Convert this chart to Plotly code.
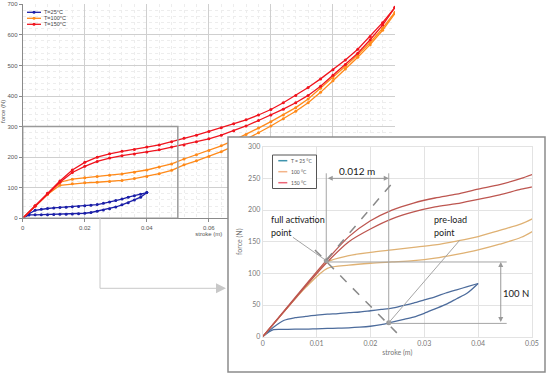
import plotly.graph_objects as go

W, H = 550, 373

# ---------------- data ----------------
stroke_main = [0.000, 0.004, 0.008, 0.012, 0.016, 0.020, 0.024, 0.028, 0.032, 0.036,
               0.040, 0.044, 0.048, 0.052, 0.056, 0.060, 0.064, 0.068, 0.072, 0.076,
               0.080, 0.084, 0.088, 0.092, 0.096, 0.100, 0.104, 0.108, 0.112, 0.116, 0.120]
force_150_hi = [0, 41, 82, 122, 158, 183, 200, 211, 219, 225,
                233, 240, 250, 262, 272, 284, 296, 309, 322, 338,
                356, 378, 402, 428, 456, 486, 518, 553, 595, 640, 690]
force_150_lo = [0, 40, 80, 118, 150, 170, 186, 197, 205, 210,
                217, 224, 233, 240, 250, 260, 272, 286, 302, 320,
                338, 357, 378, 402, 432, 468, 503, 540, 584, 632, 690]
force_100_hi = [0, 40, 80, 118, 128, 133, 137, 141, 145, 151,
                158, 168, 178, 194, 208, 222, 237, 255, 274, 295,
                316, 338, 362, 390, 425, 460, 497, 535, 575, 622, 674]
force_100_lo = [0, 40, 78, 108, 113, 116, 118, 120, 124, 130,
                137, 146, 157, 175, 188, 202, 218, 236, 257, 280,
                302, 326, 350, 378, 412, 450, 488, 527, 568, 615, 670]

stroke_25 = [0.000, 0.002, 0.004, 0.006, 0.008, 0.010, 0.012, 0.014, 0.016, 0.018,
             0.020, 0.022, 0.024, 0.026, 0.028, 0.030, 0.032, 0.034, 0.036, 0.038, 0.040]
force_25_hi = [0, 15, 26, 30, 32, 34, 35.5, 36.5, 38, 39,
               41, 43, 45, 49, 53, 58, 63, 69, 74, 79, 84]
force_25_lo = [0, 11, 11.5, 12, 12, 12.5, 13, 13.5, 14, 15,
               16.5, 19, 23, 27, 31, 37, 44, 51, 60, 69, 84]

temps_main = ["T=25°C", "T=100°C", "T=150°C"]
temps_inset = ["T = 25 °C", "100 °C", "150 °C"]
col_main = ["#1b1fa8", "#ff8a1a", "#f0141e"]
col_inset = ["#4d6c9c", "#dfb173", "#bd5650"]
col_inset_legend = ["#3f93ad", "#f3b489", "#ec6677"]

key_stroke = [0.0118, 0.0234]   # full activation point, pre-load point
key_force = [120, 22]
zoom_stroke = [0, 0.05]
zoom_force = [0, 300]

# ---------------- helpers ----------------
def fx(p):
    return p / W

def fy(p):
    return 1 - p / H

series = [(stroke_25, force_25_hi, force_25_lo),
          (stroke_main, force_100_hi, force_100_lo),
          (stroke_main, force_150_hi, force_150_lo)]

fig = go.Figure()

for i, (sx, hi, lo) in enumerate(series):
    for ys in (hi, lo):
        fig.add_trace(go.Scatter(x=sx, y=ys, mode="lines+markers", xaxis="x", yaxis="y",
                                 line=dict(color=col_main[i], width=1.3),
                                 marker=dict(color=col_main[i], size=3),
                                 showlegend=False, hoverinfo="skip"))

# box subplot (white panel behind inset)
fig.add_trace(go.Scatter(x=[], y=[], xaxis="x2", yaxis="y2", showlegend=False))

for i, (sx, hi, lo) in enumerate(series):
    for ys in (hi, lo):
        fig.add_trace(go.Scatter(x=sx, y=ys, mode="lines", xaxis="x3", yaxis="y3",
                                 line=dict(color=col_inset[i], width=1.3, shape="spline", smoothing=0.8),
                                 showlegend=False, hoverinfo="skip"))

fig.add_trace(go.Scatter(x=key_stroke, y=key_force, mode="markers", xaxis="x3", yaxis="y3",
                         marker=dict(color="#9a9a9a", size=5), showlegend=False, hoverinfo="skip"))

main_font = "Liberation Sans, Arial, sans-serif"
inset_font = "Lato, Open Sans, sans-serif"

common_main = dict(showgrid=True, gridcolor="#cfcfcf", gridwidth=1, zeroline=False,
                   showline=True, linecolor="#8a8a8a", linewidth=1,
                   ticks="outside", ticklen=3, tickcolor="#8a8a8a",
                   tickfont=dict(size=6, color="#555", family=main_font),
                   automargin=False)

fig.update_layout(
    width=W, height=H, margin=dict(l=0, r=0, t=0, b=0),
    paper_bgcolor="white", plot_bgcolor="white", showlegend=False,
    xaxis=dict(domain=[fx(22.7), fx(395)], range=[0, 0.12], dtick=0.02, tick0=0, anchor="y",
               minor=dict(dtick=0.004, showgrid=True, gridcolor="#ededed", griddash="dot"),
               title=dict(text="stroke (m)", font=dict(size=6, color="#555", family=main_font), standoff=2),
               **common_main),
    yaxis=dict(domain=[fy(218.3), fy(4.3)], range=[0, 700], dtick=100, tick0=0, anchor="x",
               minor=dict(dtick=20, showgrid=True, gridcolor="#ededed", griddash="dot"),
               title=dict(text="force (N)", font=dict(size=6, color="#555", family=main_font), standoff=2),
               **common_main),
    xaxis2=dict(domain=[fx(228), fx(545)], range=[0, 1], visible=False, anchor="y2", automargin=False),
    yaxis2=dict(domain=[fy(372), fy(137)], range=[0, 1], visible=False, anchor="x2", automargin=False),
    xaxis3=dict(domain=[fx(262.7), fx(532)], range=[0, 0.05], dtick=0.01, tick0=0, anchor="y3",
                showgrid=True, gridcolor="#e3e3e3", zeroline=False, showline=True, mirror=True,
                linecolor="#e3e3e3", ticks="", tickfont=dict(size=7, color="#777", family=inset_font),
                title=dict(text="stroke (m)", font=dict(size=7, color="#777", family=inset_font), standoff=4),
                automargin=False),
    yaxis3=dict(domain=[fy(336.7), fy(146.7)], range=[0, 300], dtick=50, tick0=0, anchor="x3",
                showgrid=True, gridcolor="#e3e3e3", zeroline=False, showline=True, mirror=True,
                linecolor="#e3e3e3", ticks="", tickfont=dict(size=7, color="#777", family=inset_font),
                title=dict(text="force (N)", font=dict(size=7, color="#777", family=inset_font), standoff=4),
                automargin=False),
)

shapes = []
annos = []

# zoom region in the main chart
shapes.append(dict(type="rect", xref="x", yref="y", x0=zoom_stroke[0], x1=zoom_stroke[1],
                   y0=zoom_force[0], y1=zoom_force[1], line=dict(color="#9a9a9a", width=1.5), layer="above"))

# connector from main chart to inset
shapes.append(dict(type="path", xref="paper", yref="paper",
                   path=f"M {fx(100)},{fy(217)} L {fx(100)},{fy(288.3)} L {fx(219)},{fy(288.3)}",
                   line=dict(color="#c8c8c8", width=1)))
annos.append(dict(xref="paper", yref="paper", x=fx(226), y=fy(288.3), ax=-10, ay=0, text="",
                  showarrow=True, arrowhead=2, arrowsize=2, arrowwidth=1, arrowcolor="#c8c8c8"))

# inset frame
shapes.append(dict(type="rect", xref="paper", yref="paper", x0=fx(228), x1=fx(545), y0=fy(372), y1=fy(137),
                   line=dict(color="#8c8c8c", width=1.5), layer="above"))

# main legend
for i, name in enumerate(temps_main):
    yy = 12.3 + 6 * i
    shapes.append(dict(type="line", xref="paper", yref="paper", x0=fx(27), x1=fx(41), y0=fy(yy), y1=fy(yy),
                       line=dict(color=col_main[i], width=1.3)))
    shapes.append(dict(type="circle", xref="paper", yref="paper", x0=fx(32.5), x1=fx(35.5),
                       y0=fy(yy + 1.5), y1=fy(yy - 1.5), fillcolor=col_main[i], line=dict(width=0)))
    annos.append(dict(xref="paper", yref="paper", x=fx(42), y=fy(yy), xanchor="left", yanchor="middle",
                      text=name, showarrow=False, font=dict(size=5.5, color="#444", family=main_font)))

# inset legend
shapes.append(dict(type="rect", xref="paper", yref="paper", x0=fx(272.5), x1=fx(316.5), y0=fy(188.5), y1=fy(155),
                   line=dict(color="#555", width=1), fillcolor="white", layer="above"))
for i, name in enumerate(temps_inset):
    yy = 160.7 + 11 * i
    shapes.append(dict(type="line", xref="paper", yref="paper", x0=fx(278.3), x1=fx(287.3), y0=fy(yy), y1=fy(yy),
                       line=dict(color=col_inset_legend[i], width=1.5)))
    annos.append(dict(xref="paper", yref="paper", x=fx(288.5), y=fy(yy), xanchor="left", yanchor="middle",
                      text=name, showarrow=False, font=dict(size=5, color="#555", family=inset_font)))

# inset construction lines
g = "#a5a5a5"
def iline(x0, y0, x1, y1, color=g, width=1, dash="solid"):
    shapes.append(dict(type="line", xref="x3", yref="y3", x0=x0, y0=y0, x1=x1, y1=y1,
                       line=dict(color=color, width=width, dash=dash), layer="above"))

fa_x, pl_x = key_stroke
fa_y, pl_y = key_force
iline(fa_x, fa_y, fa_x, 258)
iline(pl_x, pl_y, pl_x, 258)
iline(fa_x, 121, 0.0243, 245, color="#8a8a8a", width=1.5, dash="dash")
iline(0.0097, 137, 0.0249, 6, color="#8a8a8a", width=1.5, dash="dash")
iline(0.0056, 157, 0.01165, 121)
iline(0.0366, 152.5, pl_x, pl_y)
iline(fa_x, 118, 0.0453, 118)
iline(pl_x, 21, 0.0453, 21)

annos.append(dict(xref="x3", yref="y3", axref="x3", ayref="y3", x=pl_x, y=250, ax=fa_x, ay=250, text="",
                  showarrow=True, arrowside="end+start", arrowhead=2, arrowsize=1, arrowwidth=1, arrowcolor="#999"))
annos.append(dict(xref="x3", yref="y3", axref="x3", ayref="y3", x=0.0442, y=118, ax=0.0442, ay=21, text="",
                  showarrow=True, arrowside="end+start", arrowhead=2, arrowsize=1, arrowwidth=1, arrowcolor="#999"))

tf = dict(size=9.5, color="#1a1a1a", family=inset_font)
tf_small = dict(size=9, color="#1a1a1a", family=inset_font)
annos.append(dict(xref="x3", yref="y3", x=0.0176, y=262, text="0.012 m", showarrow=False,
                  font=dict(size=10, color="#1a1a1a", family=inset_font)))
label_lines = [("full activation", 0.0013, 185.5), ("point", 0.0013, 164.5),
               ("pre-load", 0.0317, 185.5), ("point", 0.0317, 164.5)]
for txt, lx, ly in label_lines:
    annos.append(dict(xref="x3", yref="y3", x=lx, y=ly, xanchor="left", yanchor="middle",
                      text=txt, showarrow=False, font=tf_small, borderpad=0))
annos.append(dict(xref="x3", yref="y3", x=0.0470, y=68.4, text="100 N", showarrow=False, font=tf))

fig.update_layout(shapes=shapes, annotations=annos)
fig.write_html("out.html", config={"displayModeBar": False},
               post_script="document.body.style.margin='0';document.body.style.padding='0';")
